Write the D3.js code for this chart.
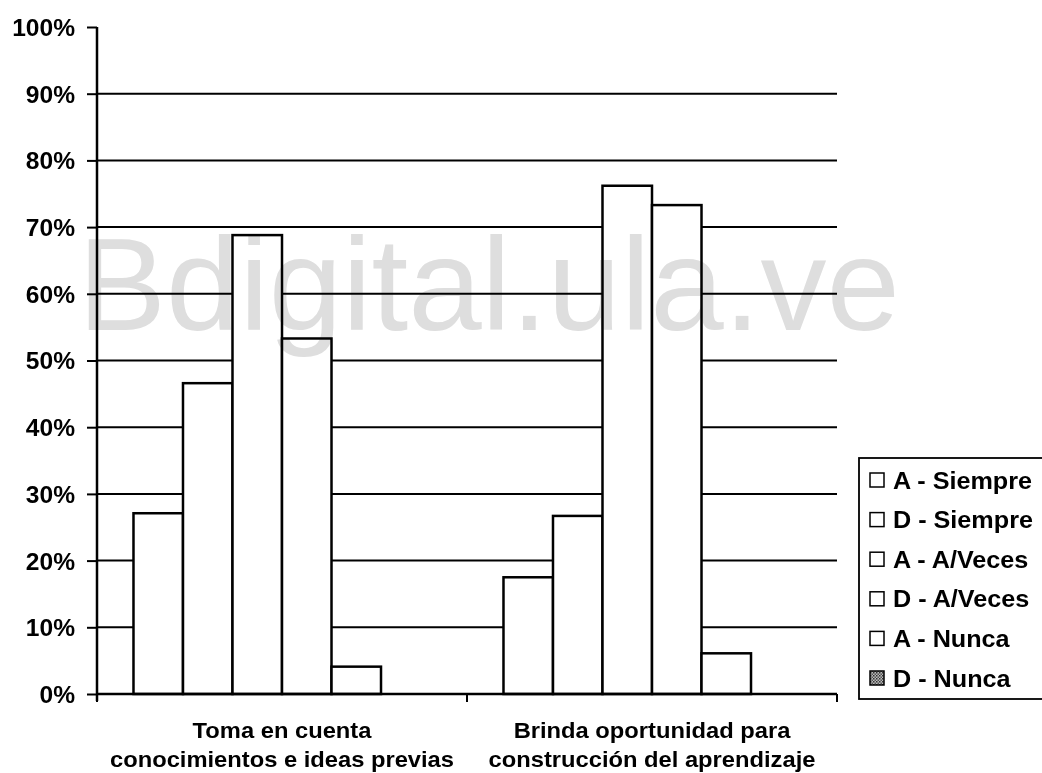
<!DOCTYPE html>
<html>
<head>
<meta charset="utf-8">
<script src="https://cdn.jsdelivr.net/npm/d3@7"></script>
<style>
  html, body { margin: 0; padding: 0; background: #fff; }
  svg { display: block; }
  .lbl { font-family: "Liberation Sans", Arial, sans-serif; font-weight: bold; fill: #000; }
</style>
</head>
<body>
<svg id="chart" width="1042" height="773"></svg>
<script>
// ---- data ----
const categories = [
  ["Toma en cuenta", "conocimientos e ideas previas"],
  ["Brinda oportunidad para", "construcción del aprendizaje"]
];
const seriesNames = ["A - Siempre", "D - Siempre", "A - A/Veces", "D - A/Veces", "A - Nunca", "D - Nunca"];
const aSiempre = [27.1, 17.5];
const dSiempre = [46.6, 26.7];
const aAVeces  = [68.8, 76.2];
const dAVeces  = [53.3, 73.3];
const aNunca   = [4.1, 6.1];
const dNunca   = [0, 0];
const seriesValues = [aSiempre, dSiempre, aAVeces, dAVeces, aNunca, dNunca];
const yTicks = [0, 10, 20, 30, 40, 50, 60, 70, 80, 90, 100];
const watermark = "Bdigital.ula.ve";

// ---- layout ----
const svg = d3.select("#chart");
const X0 = 97, X1 = 837, Y0 = 694, Y1 = 27;
const SX = 1.05; // slight horizontal stretch of the scanned lettering

const y = d3.scaleLinear().domain([0, 100]).range([Y0, Y1]);
const x = d3.scaleBand().domain(d3.range(categories.length)).range([X0, X1]).paddingInner(0).paddingOuter(0);
const xs = d3.scaleBand().domain(d3.range(seriesNames.length)).range([0, x.bandwidth()]).paddingInner(0).paddingOuter(0.737);

const defs = svg.append("defs");
const pat = defs.append("pattern").attr("id", "dots").attr("patternUnits", "userSpaceOnUse")
  .attr("width", 3).attr("height", 3);
pat.append("rect").attr("width", 3).attr("height", 3).attr("fill", "#bbb");
pat.append("rect").attr("width", 1.5).attr("height", 1.5).attr("fill", "#333");
pat.append("rect").attr("x", 1.5).attr("y", 1.5).attr("width", 1.5).attr("height", 1.5).attr("fill", "#555");

// gridlines
svg.append("g").selectAll("line").data(yTicks.filter(d => d > 0 && d < 100)).join("line")
  .attr("x1", X0).attr("x2", X1).attr("y1", d => y(d)).attr("y2", d => y(d))
  .attr("stroke", "#000").attr("stroke-width", 2);

// bars
const rows = [];
categories.forEach((c, ci) => seriesValues.forEach((vals, si) => rows.push({ci, si, v: vals[ci]})));
svg.append("g").selectAll("rect").data(rows.filter(r => r.v > 0)).join("rect")
  .attr("x", r => x(r.ci) + xs(r.si))
  .attr("y", r => y(r.v))
  .attr("width", xs.bandwidth())
  .attr("height", r => y(0) - y(r.v))
  .attr("fill", r => r.si === 5 ? "url(#dots)" : "#fff")
  .attr("stroke", "#000").attr("stroke-width", 2.5);

// watermark (multiplied so black lines stay black)
svg.append("text")
  .attr("x", 78).attr("y", 330)
  .attr("font-family", "Liberation Sans, Arial, sans-serif")
  .attr("font-size", 132)
  .attr("fill", "#dedede")
  .style("mix-blend-mode", "multiply")
  .text(watermark);

// y axis
const yAxis = svg.append("g").attr("transform", `translate(${X0},0)`)
  .call(d3.axisLeft(y).tickValues(yTicks).tickFormat(d => d + "%").tickSize(10).tickSizeOuter(0));
yAxis.select(".domain").remove();
yAxis.selectAll(".tick line").attr("stroke", "#000").attr("stroke-width", 2);
yAxis.selectAll(".tick text")
  .attr("class", "lbl").attr("x", 0).attr("dy", "0.36em")
  .attr("font-size", 23.4)
  .attr("transform", `translate(-22,0) scale(${SX},1)`);
svg.append("line").attr("x1", X0).attr("x2", X0).attr("y1", y(100)).attr("y2", Y0 + 7)
  .attr("stroke", "#000").attr("stroke-width", 2.5);

// x axis
svg.append("line").attr("x1", X0).attr("x2", X1).attr("y1", Y0).attr("y2", Y0)
  .attr("stroke", "#000").attr("stroke-width", 2.5);
const xTickPos = d3.range(categories.length + 1).map(i => i < categories.length ? x(i) : x(i - 1) + x.bandwidth());
svg.append("g").selectAll("line").data(xTickPos).join("line")
  .attr("x1", d => d).attr("x2", d => d).attr("y1", Y0).attr("y2", Y0 + 8)
  .attr("stroke", "#000").attr("stroke-width", 2);

// category labels
categories.forEach((lines, ci) => {
  const cx = x(ci) + x.bandwidth() / 2;
  lines.forEach((t, li) => {
    svg.append("g").attr("transform", `translate(${cx},${738 + li * 29}) scale(${SX},1)`)
      .append("text").attr("class", "lbl").attr("text-anchor", "middle").attr("font-size", 22.6).text(t);
  });
});

// legend
const LX = 859, LY = 458, LW = 184, LH = 241;
svg.append("rect").attr("x", LX).attr("y", LY).attr("width", LW).attr("height", LH)
  .attr("fill", "#fff").attr("stroke", "#000").attr("stroke-width", 1.8);
const leg = svg.append("g").selectAll("g").data(seriesNames).join("g")
  .attr("transform", (d, i) => `translate(0,${480 + i * 39.6})`);
leg.append("rect").attr("x", 870).attr("y", -7).attr("width", 14).attr("height", 14)
  .attr("fill", (d, i) => i === 5 ? "url(#dots)" : "#fff")
  .attr("stroke", "#000").attr("stroke-width", 1.5);
leg.append("g").attr("transform", `translate(893,0) scale(${SX},1)`)
  .append("text").attr("class", "lbl").attr("dy", "0.36em").attr("font-size", 24).text(d => d);
</script>
</body>
</html>
